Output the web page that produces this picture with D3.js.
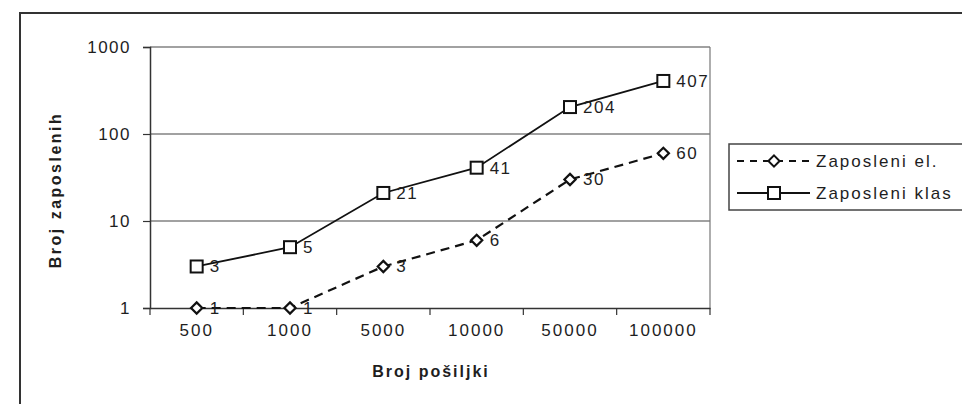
<!DOCTYPE html>
<html><head><meta charset="utf-8">
<script src="https://cdn.jsdelivr.net/npm/d3@7"></script>
<style>
html,body{margin:0;padding:0;background:#fff;}
svg{display:block;}
text{font-family:"Liberation Sans",Arial,sans-serif;fill:#1e1e1e;}
</style></head>
<body>
<svg id="c" width="962" height="404"></svg>
<script>
const categories = ["500","1000","5000","10000","50000","100000"];
const seriesNames = ["Zaposleni el.","Zaposleni klas"];
const zaposleniEl = [1,1,3,6,30,60];
const zaposleniKlas = [3,5,21,41,204,407];
const yTicks = [1,10,100,1000];
const yTitle = "Broj zaposlenih";
const xTitle = "Broj pošiljki";

const svg = d3.select("#c");
const L = 150, R = 710, T = 47, B = 308;

// outer frame
svg.append("rect").attr("x",20).attr("y",13).attr("width",1000).attr("height",500)
  .attr("fill","none").attr("stroke","#333").attr("stroke-width",2);

const x = d3.scaleBand().domain(categories).range([L,R]).padding(0);
const y = d3.scaleLog().domain([1,1000]).range([B,T]);

// gridlines
svg.append("g").selectAll("line").data(yTicks.filter(d=>d>1)).join("line")
  .attr("x1",L).attr("x2",R).attr("y1",d=>y(d)).attr("y2",d=>y(d))
  .attr("stroke","#444").attr("stroke-width",1.2);
// right border of plot area
svg.append("line").attr("x1",R).attr("x2",R).attr("y1",T).attr("y2",B)
  .attr("stroke","#777").attr("stroke-width",1.2);

// y axis
const yAxis = d3.axisLeft(y).tickValues(yTicks).tickFormat(d3.format("d")).tickSize(7).tickPadding(12);
const gy = svg.append("g").attr("transform",`translate(${L},0)`).call(yAxis);
gy.select(".domain").attr("stroke","#333").attr("stroke-width",1.5);
gy.selectAll(".tick line").attr("stroke","#333").attr("stroke-width",1.2);
gy.selectAll(".tick text").attr("font-size",17).attr("letter-spacing","1.5px").attr("fill","#1e1e1e")
  .attr("font-family","Liberation Sans, Arial, sans-serif");

// x axis
const xAxis = d3.axisBottom(x).tickSize(0).tickPadding(13);
const gx = svg.append("g").attr("transform",`translate(0,${B})`).call(xAxis);
gx.select(".domain").attr("stroke","#333").attr("stroke-width",1.5);
gx.selectAll(".tick text").attr("font-size",17).attr("letter-spacing","2px").attr("fill","#1e1e1e")
  .attr("font-family","Liberation Sans, Arial, sans-serif").attr("dy","0.9em");
// boundary tick marks
const bounds = categories.map(c=>x(c)).concat([R]);
svg.append("g").selectAll("line").data(bounds).join("line")
  .attr("x1",d=>d).attr("x2",d=>d).attr("y1",B).attr("y2",B+7)
  .attr("stroke","#333").attr("stroke-width",1.2);

const cx = c => x(c) + x.bandwidth()/2;
const line = d3.line().x((d,i)=>cx(categories[i])).y(d=>y(d));

// series el (dashed, diamonds)
svg.append("path").datum(zaposleniEl).attr("d",line).attr("fill","none")
  .attr("stroke","#111").attr("stroke-width",2.2).attr("stroke-dasharray","9,6");
// series klas (solid, squares)
svg.append("path").datum(zaposleniKlas).attr("d",line).attr("fill","none")
  .attr("stroke","#111").attr("stroke-width",1.8);

const diamond = d3.symbol().type(d3.symbolDiamond2).size(80);
function drawDiamonds(g, data){
  g.selectAll("path.m").data(data).join("path").attr("class","m")
    .attr("d",diamond)
    .attr("transform",(d,i)=>`translate(${cx(categories[i])},${y(d)})`)
    .attr("fill","#fff").attr("stroke","#111").attr("stroke-width",2.2);
}
function drawSquares(g, data){
  g.selectAll("rect.m").data(data).join("rect").attr("class","m")
    .attr("x",(d,i)=>cx(categories[i])-6).attr("y",d=>y(d)-6)
    .attr("width",12).attr("height",12)
    .attr("fill","#fff").attr("stroke","#111").attr("stroke-width",2);
}
drawDiamonds(svg.append("g"), zaposleniEl);
drawSquares(svg.append("g"), zaposleniKlas);

// data labels
function labels(data){
  svg.append("g").selectAll("text").data(data).join("text")
    .attr("x",(d,i)=>cx(categories[i])+13).attr("y",d=>y(d)+6)
    .attr("font-size",17).attr("letter-spacing","1.5px").text(d=>d);
}
labels(zaposleniEl);
labels(zaposleniKlas);

// axis titles
svg.append("text").attr("transform",`translate(61,190) rotate(-90)`)
  .attr("text-anchor","middle").attr("font-size",16).attr("font-weight","bold")
  .attr("letter-spacing","2.5px").text(yTitle);
svg.append("text").attr("x",431).attr("y",377).attr("text-anchor","middle")
  .attr("font-size",16).attr("font-weight","bold").attr("letter-spacing","2px").text(xTitle);

// legend
const lg = svg.append("g");
lg.append("rect").attr("x",729).attr("y",144).attr("width",300).attr("height",66)
  .attr("fill","#fff").attr("stroke","#444").attr("stroke-width",1.5);
const ly = [161,193];
lg.append("line").attr("x1",737).attr("x2",810).attr("y1",ly[0]).attr("y2",ly[0])
  .attr("stroke","#111").attr("stroke-width",1.8).attr("stroke-dasharray","7,6");
lg.append("path").attr("d",diamond).attr("transform",`translate(774,${ly[0]})`)
  .attr("fill","#fff").attr("stroke","#111").attr("stroke-width",2);
lg.append("line").attr("x1",737).attr("x2",810).attr("y1",ly[1]).attr("y2",ly[1])
  .attr("stroke","#111").attr("stroke-width",1.8);
lg.append("rect").attr("x",768).attr("y",ly[1]-6).attr("width",12).attr("height",12)
  .attr("fill","#fff").attr("stroke","#111").attr("stroke-width",2);
lg.selectAll("text.l").data(seriesNames).join("text").attr("class","l")
  .attr("x",816).attr("y",(d,i)=>ly[i]+6).attr("font-size",17).attr("letter-spacing","2px")
  .text(d=>d);
</script>
</body></html>
